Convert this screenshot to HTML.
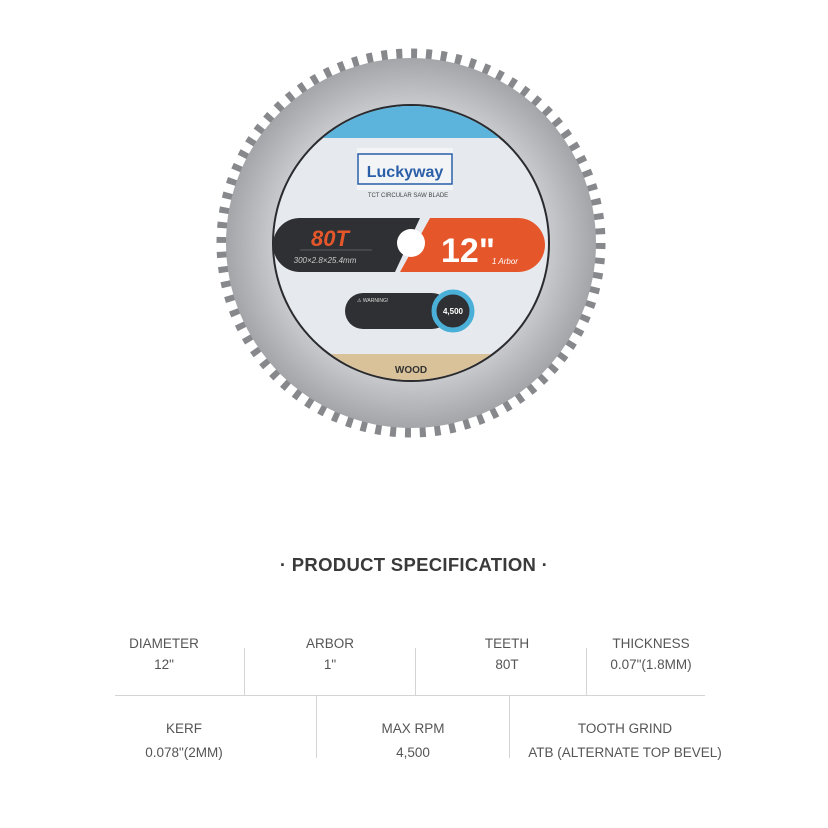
<!DOCTYPE html>
<html><head><style>
body{margin:0;width:828px;height:828px;background:#fff;position:relative;overflow:hidden;font-family:"Liberation Sans",sans-serif;}
.t{position:absolute;transform:translateX(-50%);white-space:nowrap;color:#555;font-size:13.5px;}
.v{position:absolute;background:#d4d4d4;width:1px;}
</style></head><body>
<svg width="828" height="460" style="position:absolute;left:0;top:0">
<defs>
<radialGradient id="g" cx="50%" cy="50%" r="50%"><stop offset="70%" stop-color="#cfd0d3"/><stop offset="100%" stop-color="#a3a5a9"/></radialGradient>
<clipPath id="c"><circle cx="411" cy="243" r="137"/></clipPath>
</defs>
<circle cx="411" cy="243" r="189" fill="none" stroke="#86888c" stroke-width="11" stroke-dasharray="6 8.84"/>
<circle cx="411" cy="243" r="185" fill="url(#g)"/>
<circle cx="411" cy="243" r="139" fill="#2a2b2e"/>
<g clip-path="url(#c)">
<rect x="270" y="100" width="290" height="290" fill="#e6eaee"/>
<rect x="270" y="100" width="290" height="38" fill="#5cb3dc"/>
<rect x="270" y="354" width="290" height="40" fill="#d9c29a"/>
</g>
<rect x="357" y="148" width="96" height="42" fill="#f2f4f6"/>
<rect x="358" y="154" width="94" height="30" fill="none" stroke="#2b5fa8" stroke-width="1.5"/>
<text x="405" y="177" font-size="16" font-weight="bold" fill="#2b5fa8" text-anchor="middle">Luckyway</text>
<text x="408" y="197" font-size="6" fill="#444" text-anchor="middle">TCT CIRCULAR SAW BLADE</text>
<path d="M300 218 H420 L395 272 H300 A27 27 0 0 1 300 218Z" fill="#2f3033"/>
<path d="M430 218 H518 A27 27 0 0 1 518 272 H400Z" fill="#e5572b"/>
<text x="330" y="246" font-size="22" font-style="italic" font-weight="bold" fill="#e5572b" text-anchor="middle">80T</text>
<line x1="300" y1="250" x2="372" y2="250" stroke="#888" stroke-width="0.6"/>
<text x="325" y="263" font-size="8" font-style="italic" fill="#ccc" text-anchor="middle">300×2.8×25.4mm</text>
<text x="468" y="262" font-size="34" font-weight="bold" fill="#fff" text-anchor="middle">12"</text>
<text x="505" y="264" font-size="8" font-style="italic" fill="#fff" text-anchor="middle">1 Arbor</text>
<circle cx="411" cy="243" r="14" fill="#fff"/>
<rect x="345" y="293" width="105" height="36" rx="18" fill="#2f3033"/>
<text x="357" y="302" font-size="5" fill="#ddd">⚠ WARNING!</text>
<circle cx="453" cy="311" r="19" fill="#2f3033" stroke="#4bb0d8" stroke-width="5"/>
<text x="453" y="314" font-size="8" font-weight="bold" fill="#fff" text-anchor="middle">4,500</text>
<text x="411" y="373" font-size="10" font-weight="bold" fill="#333" text-anchor="middle">WOOD</text>
</svg>
<div class="t" style="left:414px;top:554px;font-size:18.5px;font-weight:bold;color:#3a3a3a;letter-spacing:0.3px">· PRODUCT SPECIFICATION ·</div>
<div class="t" style="left:164px;top:636px">DIAMETER</div><div class="t" style="left:164px;top:657px">12"</div>
<div class="t" style="left:330px;top:636px">ARBOR</div><div class="t" style="left:330px;top:657px">1"</div>
<div class="t" style="left:507px;top:636px">TEETH</div><div class="t" style="left:507px;top:657px">80T</div>
<div class="t" style="left:651px;top:636px">THICKNESS</div><div class="t" style="left:651px;top:657px">0.07"(1.8MM)</div>
<div class="t" style="left:184px;top:721px">KERF</div><div class="t" style="left:184px;top:745px">0.078"(2MM)</div>
<div class="t" style="left:413px;top:721px">MAX RPM</div><div class="t" style="left:413px;top:745px">4,500</div>
<div class="t" style="left:625px;top:721px">TOOTH GRIND</div><div class="t" style="left:625px;top:745px">ATB (ALTERNATE TOP BEVEL)</div>
<div style="position:absolute;left:115px;top:695px;width:590px;height:1px;background:#d4d4d4"></div>
<div class="v" style="left:244px;top:648px;height:47px"></div>
<div class="v" style="left:415px;top:648px;height:47px"></div>
<div class="v" style="left:586px;top:648px;height:47px"></div>
<div class="v" style="left:316px;top:696px;height:62px"></div>
<div class="v" style="left:509px;top:696px;height:62px"></div>
</body></html>
